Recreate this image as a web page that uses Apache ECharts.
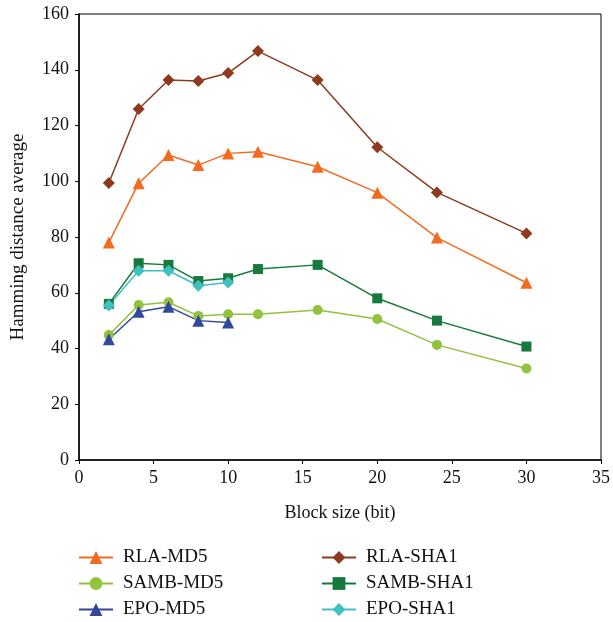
<!DOCTYPE html>
<html>
<head>
<meta charset="utf-8">
<script src="https://cdn.jsdelivr.net/npm/echarts@6/dist/echarts.min.js"></script>
<style>html,body{margin:0;padding:0;background:#fff;}#c{width:613px;height:622px;}</style>
</head>
<body>
<div id="c"></div>
<script>
const blockSizes = [2, 4, 6, 8, 10, 12, 16, 20, 24, 30];
const rlaMD5   = [78.0, 99.3, 109.4, 105.8, 110.0, 110.6, 105.2, 95.9, 79.8, 63.6];
const sambMD5  = [44.8, 55.6, 56.6, 51.7, 52.3, 52.3, 53.8, 50.6, 41.3, 32.8];
const epoMD5   = [43.3, 53.2, 55.0, 50.0, 49.3];
const rlaSHA1  = [99.4, 125.9, 136.3, 136.0, 138.8, 146.7, 136.3, 112.2, 96.0, 81.3];
const sambSHA1 = [56.0, 70.6, 70.0, 64.2, 65.2, 68.5, 70.0, 58.0, 50.0, 40.7];
const epoSHA1  = [55.4, 67.9, 67.9, 62.5, 63.7];
const xTicks = [0, 5, 10, 15, 20, 25, 30, 35];
const yTicks = [0, 20, 40, 60, 80, 100, 120, 140, 160];

function pairs(vals) { return vals.map((v, i) => [blockSizes[i], v]); }
const font = '"Liberation Serif", "DejaVu Serif", serif';
const txt = '#111';
function mk(name, vals, color, symbol, size) {
  return {
    name: name, type: 'line', data: pairs(vals), symbol: symbol, symbolSize: size,
    itemStyle: { color: color }, lineStyle: { color: color, width: 1.5 },
    emphasis: { disabled: true }, animation: false
  };
}
const chart = echarts.init(document.getElementById('c'));
const legendCommon = {
  orient: 'vertical', top: 548, height: 90, padding: 0, itemWidth: 34, itemHeight: 16, itemGap: 7,
  textStyle: { fontFamily: font, fontSize: 19, color: txt, padding: [0, 0, 0, 5] }, selectedMode: false
};
chart.setOption({
  animation: false,
  backgroundColor: '#fff',
  grid: { left: 79, right: 9, top: 14, bottom: 162, show: true, borderColor: '#000', borderWidth: 1 },
  legend: [
    Object.assign({ left: 78, data: ['RLA-MD5', 'SAMB-MD5', 'EPO-MD5'] }, legendCommon),
    Object.assign({ left: 321, data: ['RLA-SHA1', 'SAMB-SHA1', 'EPO-SHA1'] }, legendCommon)
  ],
  xAxis: {
    type: 'value', min: 0, max: 35, interval: 5,
    name: 'Block size (bit)', nameLocation: 'middle', nameGap: 44,
    nameTextStyle: { fontFamily: font, fontSize: 18, color: txt },
    axisLine: { show: true, lineStyle: { color: '#000', width: 1.5 } },
    axisTick: { show: true, length: 4, lineStyle: { color: '#000' } },
    axisLabel: { fontFamily: font, fontSize: 18, color: txt, margin: 9 },
    splitLine: { show: false }
  },
  yAxis: {
    type: 'value', min: 0, max: 160, interval: 20,
    name: 'Hamming distance average', nameLocation: 'middle', nameGap: 51,
    nameTextStyle: { fontFamily: font, fontSize: 19, color: txt },
    axisLine: { show: true, lineStyle: { color: '#000', width: 1.5 } },
    axisTick: { show: true, length: 4, lineStyle: { color: '#000' } },
    axisLabel: { fontFamily: font, fontSize: 18, color: txt, margin: 10 },
    splitLine: { show: false }
  },
  series: [
    mk('RLA-MD5', rlaMD5, '#f36b21', 'triangle', 12),
    mk('SAMB-MD5', sambMD5, '#92c23e', 'circle', 10),
    mk('EPO-MD5', epoMD5, '#31499c', 'triangle', 12),
    mk('RLA-SHA1', rlaSHA1, '#8e3a1f', 'diamond', 12),
    mk('SAMB-SHA1', sambSHA1, '#177a3c', 'rect', 10),
    mk('EPO-SHA1', epoSHA1, '#40c0c0', 'diamond', 12)
  ]
});
</script>
</body>
</html>
